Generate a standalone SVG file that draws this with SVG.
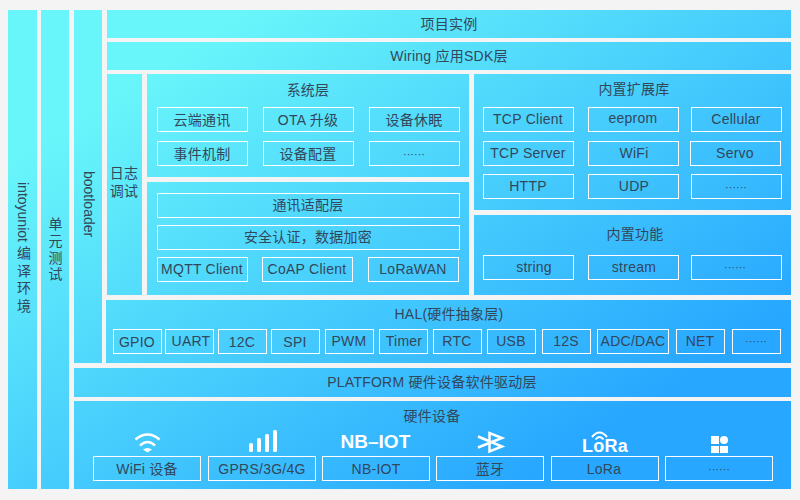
<svg xmlns="http://www.w3.org/2000/svg" width="800" height="500" viewBox="0 0 800 500">
<style>
.p{fill:url(#g)}
.b{fill:none;stroke:#fff;stroke-width:1}
text{font-family:"Liberation Sans","Noto Sans CJK SC",sans-serif;font-size:14px;letter-spacing:.25px;fill:#33475a;text-anchor:middle}
text.d{font-size:11px;letter-spacing:0}
text.v{writing-mode:vertical-rl;text-anchor:start;letter-spacing:0}
</style>
<defs><linearGradient id="g" gradientUnits="userSpaceOnUse" x1="76" y1="118" x2="373" y2="580"><stop offset="0" stop-color="#69f6fa"/><stop offset="1" stop-color="#27a7ff"/></linearGradient></defs>
<rect width="800" height="500" fill="#f4f4f4"/>
<g id="panels">
<rect class="p" x="8" y="10" width="29" height="479"/>
<rect class="p" x="41" y="10" width="28" height="479"/>
<rect class="p" x="74" y="10" width="28" height="353"/>
<rect class="p" x="107" y="10" width="684" height="28"/>
<rect class="p" x="107" y="42" width="684" height="28"/>
<rect class="p" x="107" y="74" width="35" height="221"/>
<rect class="p" x="147" y="74" width="322" height="103"/>
<rect class="p" x="147" y="182" width="322" height="113"/>
<rect class="p" x="474" y="74" width="317" height="136"/>
<rect class="p" x="474" y="215" width="317" height="80"/>
<rect class="p" x="106" y="300" width="685" height="63"/>
<rect class="p" x="74" y="368" width="717" height="29"/>
<rect class="p" x="74" y="401" width="717" height="88"/>
</g>
<g id="boxes">
<rect class="b" x="157.500" y="107.500" width="90" height="24"/>
<rect class="b" x="263.500" y="107.500" width="90" height="24"/>
<rect class="b" x="369.500" y="107.500" width="90" height="24"/>
<rect class="b" x="157.500" y="141.500" width="90" height="24"/>
<rect class="b" x="263.500" y="141.500" width="90" height="24"/>
<rect class="b" x="369.500" y="141.500" width="90" height="24"/>
<rect class="b" x="157.500" y="193.500" width="302" height="24"/>
<rect class="b" x="157.500" y="225.500" width="302" height="24"/>
<rect class="b" x="157.500" y="257.500" width="90" height="24"/>
<rect class="b" x="262.500" y="257.500" width="90" height="24"/>
<rect class="b" x="368.500" y="257.500" width="90" height="24"/>
<rect class="b" x="483.500" y="107.500" width="90" height="24"/>
<rect class="b" x="588.500" y="107.500" width="90" height="24"/>
<rect class="b" x="691.500" y="107.500" width="90" height="24"/>
<rect class="b" x="483.500" y="141.500" width="90" height="24"/>
<rect class="b" x="588.500" y="141.500" width="90" height="24"/>
<rect class="b" x="690.500" y="141.500" width="90" height="24"/>
<rect class="b" x="483.500" y="174.500" width="90" height="24"/>
<rect class="b" x="588.500" y="174.500" width="90" height="24"/>
<rect class="b" x="691.500" y="174.500" width="90" height="24"/>
<rect class="b" x="483.500" y="255.500" width="90" height="24"/>
<rect class="b" x="588.500" y="255.500" width="90" height="24"/>
<rect class="b" x="691.500" y="255.500" width="90" height="24"/>
<rect class="b" x="113.500" y="329.500" width="48" height="24"/>
<rect class="b" x="165.500" y="329.500" width="48" height="24"/>
<rect class="b" x="218.500" y="329.500" width="48" height="24"/>
<rect class="b" x="271.500" y="329.500" width="48" height="24"/>
<rect class="b" x="325.500" y="329.500" width="48" height="24"/>
<rect class="b" x="379.500" y="329.500" width="48" height="24"/>
<rect class="b" x="433.500" y="329.500" width="48" height="24"/>
<rect class="b" x="487.500" y="329.500" width="48" height="24"/>
<rect class="b" x="542.500" y="329.500" width="48" height="24"/>
<rect class="b" x="597.500" y="329.500" width="71" height="24"/>
<rect class="b" x="676.500" y="329.500" width="48" height="24"/>
<rect class="b" x="732.500" y="329.500" width="48" height="24"/>
<rect class="b" x="93.500" y="456.500" width="107" height="24"/>
<rect class="b" x="208.500" y="456.500" width="107" height="24"/>
<rect class="b" x="322.500" y="456.500" width="107" height="24"/>
<rect class="b" x="436.500" y="456.500" width="107" height="24"/>
<rect class="b" x="551.500" y="456.500" width="107" height="24"/>
<rect class="b" x="665.500" y="456.500" width="107" height="24"/>
</g>
<g id="labels">
<text x="449" y="29">项目实例</text>
<text x="449" y="61">Wiring 应用SDK层</text>
<text x="124" y="178">日志</text><text x="124" y="196">调试</text>
<text x="308" y="95">系统层</text>
<text x="202" y="125">云端通讯</text><text x="308" y="125">OTA 升级</text><text x="414" y="125">设备休眠</text>
<text x="202" y="159">事件机制</text><text x="308" y="159">设备配置</text><text class="d" x="414" y="158">······</text>
<text x="308" y="210">通讯适配层</text><text x="308" y="242">安全认证，数据加密</text>
<text x="202" y="274">MQTT Client</text><text x="307" y="274">CoAP Client</text><text x="413" y="274">LoRaWAN</text>
<text x="634" y="94">内置扩展库</text>
<text x="528" y="124">TCP Client</text><text x="633" y="123">eeprom</text><text x="736" y="124">Cellular</text>
<text x="528" y="158">TCP Server</text><text x="634" y="158">WiFi</text><text x="735" y="158">Servo</text>
<text x="528" y="191">HTTP</text><text x="634" y="191">UDP</text><text class="d" x="736" y="191">······</text>
<text x="635" y="239">内置功能</text>
<text x="534" y="272">string</text><text x="634" y="272">stream</text><text class="d" x="735" y="271">······</text>
<text x="449" y="319">HAL(硬件抽象层)</text>
<text x="137" y="347">GPIO</text><text x="191" y="346">UART</text><text x="242" y="347">12C</text><text x="295" y="347">SPI</text><text x="349" y="346">PWM</text><text x="404" y="346">Timer</text><text x="457" y="346">RTC</text><text x="511" y="346">USB</text><text x="566" y="346">12S</text><text x="633" y="346">ADC/DAC</text><text x="700" y="346">NET</text><text class="d" x="756" y="345">······</text>
<text x="432" y="387">PLATFORM 硬件设备软件驱动层</text>
<text x="432" y="421">硬件设备</text>
<text x="147" y="474">WiFi 设备</text><text x="262" y="474">GPRS/3G/4G</text><text x="376" y="474">NB-IOT</text><text x="490" y="474">蓝牙</text><text x="604" y="474">LoRa</text><text class="d" x="719" y="473">······</text>
<text class="v" x="23" y="182">intoyuniot <tspan letter-spacing="3.500">编译环境</tspan></text>
<text class="v" x="54.500" y="217" style="letter-spacing:2.700px">单元测试</text>
<text class="v" x="88.500" y="171">bootloader</text>
</g>
<g id="icons" fill="#fff">
<path d="M135.500 439.500Q147.500 429.500 159.500 439.500M140 445.500Q147.500 438.500 155 445.500" fill="none" stroke="#fff" stroke-width="2.600"/>
<path d="M143 449.500Q147.500 446.500 152 449.500L147.500 452.500z"/>
<rect x="249" y="443" width="4" height="9" rx="1.500"/><rect x="257" y="438" width="4" height="14" rx="1.500"/><rect x="265" y="434" width="4" height="18" rx="1.500"/><rect x="273" y="430" width="4" height="22" rx="1.500"/>
<text x="375.500" y="448" textLength="70" lengthAdjust="spacing" style="font:700 19px 'Liberation Sans',sans-serif;fill:#fff">NB–IOT</text>
<path d="M478 436.500L502 446.500L489.500 451.500V433L502 438L478 447.500" fill="none" stroke="#fff" stroke-width="2.500"/>
<text x="605" y="452" style="font:700 18px 'Liberation Sans',sans-serif;fill:#fff">LoRa</text>
<path d="M592 437Q599.500 428 607 437M595.500 439.500Q599.500 434.500 603.500 439.500" fill="none" stroke="#fff" stroke-width="2"/>
<rect x="711" y="436" width="8" height="8"/><circle cx="724" cy="440" r="4"/><rect x="711" y="446" width="8" height="7"/><rect x="720" y="446" width="8" height="7"/>
</g>
</svg>
